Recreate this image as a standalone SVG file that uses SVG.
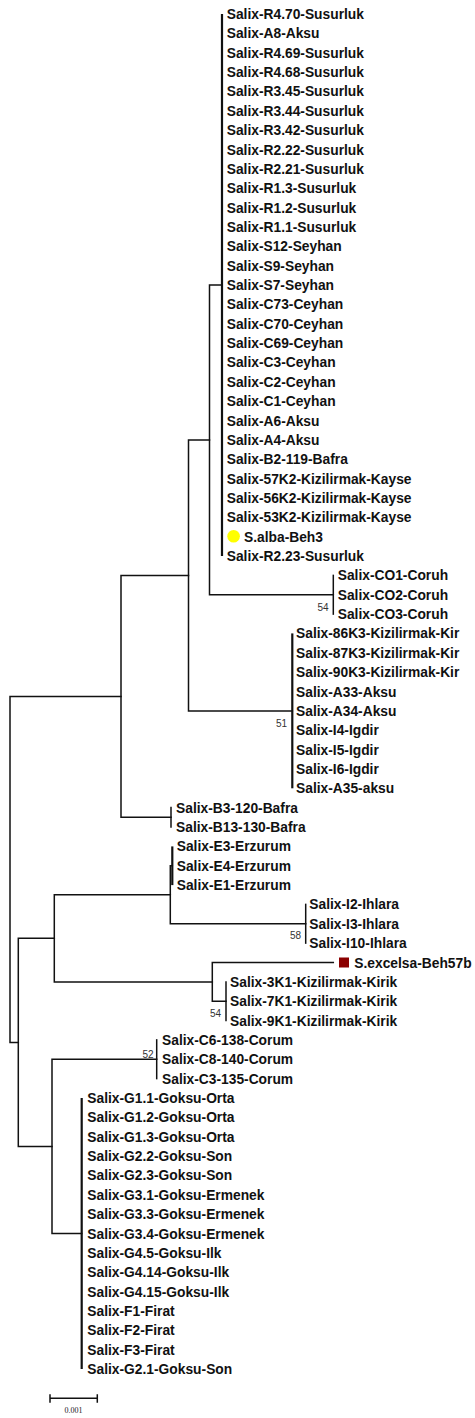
<svg xmlns="http://www.w3.org/2000/svg" width="475" height="1418" viewBox="0 0 475 1418">
<style>
.lb{font-family:"Liberation Sans",Arial,sans-serif;font-weight:bold;font-size:13.8px;fill:#111}
.bs{font-family:"Liberation Sans",Arial,sans-serif;font-size:10px;fill:#333;text-anchor:end}
.sc{font-family:"Liberation Serif","Times New Roman",serif;font-size:8px;fill:#222;text-anchor:middle}
.ln{stroke:#111;stroke-width:1.5;fill:none;stroke-linecap:square}
.tk{stroke:#111;stroke-width:2.2;fill:none}
</style>
<rect width="475" height="1418" fill="#fff"/>
<g id="connectors">
<path class="tk" d="M222 14V556"/>
<path class="ln" d="M209.5 285V594.7M209.5 285H222M209.5 594.7H333.3"/>
<path class="ln" d="M333.3 575.4V614.1"/>
<path class="ln" d="M188.5 439.9V710.9M188.5 439.9H209.5M188.5 710.9H292.3"/>
<path class="tk" d="M292.3 633.4V788.3"/>
<path class="ln" d="M121 575.4V817.3M121 575.4H188.5M121 817.3H171"/>
<path class="ln" d="M171 807.6V827"/>
<path class="ln" d="M10 696.4V1042.4M10 696.4H121M10 1042.4H18.3"/>
<path class="ln" d="M18.3 938.3V1146.4M18.3 938.3H54.3M18.3 1146.4H52"/>
<path class="ln" d="M54.3 894.8V981.9M54.3 894.8H170.3M54.3 981.9H212.3"/>
<path class="ln" d="M170.3 865.7V923.8M170.3 865.7H172.3M170.3 923.8H305.7"/>
<path class="tk" d="M172.3 846.4V885.1"/>
<path class="ln" d="M305.7 904.4V943.1"/>
<path class="ln" d="M212.3 962.5V1001.2M212.3 962.5H333.3M212.3 1001.2H226"/>
<path class="ln" d="M226 981.9V1020.6"/>
<path class="ln" d="M52 1059.3V1233.5M52 1059.3H156.7M52 1233.5H81.7"/>
<path class="ln" d="M156.7 1039.9V1078.6"/>
<path class="tk" d="M81.7 1098V1369"/>
</g>
<g id="bootstrap">
<text class="bs" x="328.5" y="610.5">54</text>
<text class="bs" x="287" y="726.5">51</text>
<text class="bs" x="301" y="939">58</text>
<text class="bs" x="221" y="1016.5">54</text>
<text class="bs" x="153.5" y="1057.5">52</text>
</g>
<g id="cluster-top">
<g id="n1"><text class="lb" x="226.7" y="19">Salix-R4.70-Susurluk</text></g>
<g id="n2"><text class="lb" x="226.7" y="38.4">Salix-A8-Aksu</text></g>
<g id="n3"><text class="lb" x="226.7" y="57.7">Salix-R4.69-Susurluk</text></g>
<g id="n4"><text class="lb" x="226.7" y="77.1">Salix-R4.68-Susurluk</text></g>
<g id="n5"><text class="lb" x="226.7" y="96.4">Salix-R3.45-Susurluk</text></g>
<g id="n6"><text class="lb" x="226.7" y="115.8">Salix-R3.44-Susurluk</text></g>
<g id="n7"><text class="lb" x="226.7" y="135.1">Salix-R3.42-Susurluk</text></g>
<g id="n8"><text class="lb" x="226.7" y="154.5">Salix-R2.22-Susurluk</text></g>
<g id="n9"><text class="lb" x="226.7" y="173.9">Salix-R2.21-Susurluk</text></g>
<g id="n10"><text class="lb" x="226.7" y="193.2">Salix-R1.3-Susurluk</text></g>
<g id="n11"><text class="lb" x="226.7" y="212.6">Salix-R1.2-Susurluk</text></g>
<g id="n12"><text class="lb" x="226.7" y="231.9">Salix-R1.1-Susurluk</text></g>
<g id="n13"><text class="lb" x="226.7" y="251.3">Salix-S12-Seyhan</text></g>
<g id="n14"><text class="lb" x="226.7" y="270.6">Salix-S9-Seyhan</text></g>
<g id="n15"><text class="lb" x="226.7" y="290">Salix-S7-Seyhan</text></g>
<g id="n16"><text class="lb" x="226.7" y="309.4">Salix-C73-Ceyhan</text></g>
<g id="n17"><text class="lb" x="226.7" y="328.7">Salix-C70-Ceyhan</text></g>
<g id="n18"><text class="lb" x="226.7" y="348.1">Salix-C69-Ceyhan</text></g>
<g id="n19"><text class="lb" x="226.7" y="367.4">Salix-C3-Ceyhan</text></g>
<g id="n20"><text class="lb" x="226.7" y="386.8">Salix-C2-Ceyhan</text></g>
<g id="n21"><text class="lb" x="226.7" y="406.1">Salix-C1-Ceyhan</text></g>
<g id="n22"><text class="lb" x="226.7" y="425.5">Salix-A6-Aksu</text></g>
<g id="n23"><text class="lb" x="226.7" y="444.9">Salix-A4-Aksu</text></g>
<g id="n24"><text class="lb" x="226.7" y="464.2">Salix-B2-119-Bafra</text></g>
<g id="n25"><text class="lb" x="226.7" y="483.6">Salix-57K2-Kizilirmak-Kayse</text></g>
<g id="n26"><text class="lb" x="226.7" y="502.9">Salix-56K2-Kizilirmak-Kayse</text></g>
<g id="n27"><text class="lb" x="226.7" y="522.3">Salix-53K2-Kizilirmak-Kayse</text></g>
<g id="n28"><circle cx="233.6" cy="536.2" r="6.3" fill="#ffff00"/><text class="lb" x="244" y="541.6">S.alba-Beh3</text></g>
<g id="n29"><text class="lb" x="226.7" y="561">Salix-R2.23-Susurluk</text></g>
</g>
<g id="cluster-coruh">
<g id="n30"><text class="lb" x="337.7" y="580.4">Salix-CO1-Coruh</text></g>
<g id="n31"><text class="lb" x="337.7" y="599.7">Salix-CO2-Coruh</text></g>
<g id="n32"><text class="lb" x="337.7" y="619.1">Salix-CO3-Coruh</text></g>
</g>
<g id="cluster-k3">
<g id="n33"><text class="lb" x="296" y="638.4">Salix-86K3-Kizilirmak-Kir</text></g>
<g id="n34"><text class="lb" x="296" y="657.8">Salix-87K3-Kizilirmak-Kir</text></g>
<g id="n35"><text class="lb" x="296" y="677.1">Salix-90K3-Kizilirmak-Kir</text></g>
<g id="n36"><text class="lb" x="296" y="696.5">Salix-A33-Aksu</text></g>
<g id="n37"><text class="lb" x="296" y="715.9">Salix-A34-Aksu</text></g>
<g id="n38"><text class="lb" x="296" y="735.2">Salix-I4-Igdir</text></g>
<g id="n39"><text class="lb" x="296" y="754.6">Salix-I5-Igdir</text></g>
<g id="n40"><text class="lb" x="296" y="773.9">Salix-I6-Igdir</text></g>
<g id="n41"><text class="lb" x="296" y="793.3">Salix-A35-aksu</text></g>
</g>
<g id="cluster-bafra">
<g id="n42"><text class="lb" x="176" y="812.6">Salix-B3-120-Bafra</text></g>
<g id="n43"><text class="lb" x="176" y="832">Salix-B13-130-Bafra</text></g>
</g>
<g id="cluster-erzurum">
<g id="n44"><text class="lb" x="176.7" y="851.4">Salix-E3-Erzurum</text></g>
<g id="n45"><text class="lb" x="176.7" y="870.7">Salix-E4-Erzurum</text></g>
<g id="n46"><text class="lb" x="176.7" y="890.1">Salix-E1-Erzurum</text></g>
</g>
<g id="cluster-ihlara">
<g id="n47"><text class="lb" x="309.3" y="909.4">Salix-I2-Ihlara</text></g>
<g id="n48"><text class="lb" x="309.3" y="928.8">Salix-I3-Ihlara</text></g>
<g id="n49"><text class="lb" x="309.3" y="948.1">Salix-I10-Ihlara</text></g>
</g>
<g id="n50"><rect x="339" y="957.5" width="10" height="10" fill="#8b0000"/><text class="lb" x="354.3" y="967.5">S.excelsa-Beh57b</text></g>
<g id="cluster-kirik">
<g id="n51"><text class="lb" x="230" y="986.9">Salix-3K1-Kizilirmak-Kirik</text></g>
<g id="n52"><text class="lb" x="230" y="1006.2">Salix-7K1-Kizilirmak-Kirik</text></g>
<g id="n53"><text class="lb" x="230" y="1025.6">Salix-9K1-Kizilirmak-Kirik</text></g>
</g>
<g id="cluster-corum">
<g id="n54"><text class="lb" x="162" y="1044.9">Salix-C6-138-Corum</text></g>
<g id="n55"><text class="lb" x="162" y="1064.3">Salix-C8-140-Corum</text></g>
<g id="n56"><text class="lb" x="162" y="1083.6">Salix-C3-135-Corum</text></g>
</g>
<g id="cluster-goksu">
<g id="n57"><text class="lb" x="87.3" y="1103">Salix-G1.1-Goksu-Orta</text></g>
<g id="n58"><text class="lb" x="87.3" y="1122.4">Salix-G1.2-Goksu-Orta</text></g>
<g id="n59"><text class="lb" x="87.3" y="1141.7">Salix-G1.3-Goksu-Orta</text></g>
<g id="n60"><text class="lb" x="87.3" y="1161.1">Salix-G2.2-Goksu-Son</text></g>
<g id="n61"><text class="lb" x="87.3" y="1180.4">Salix-G2.3-Goksu-Son</text></g>
<g id="n62"><text class="lb" x="87.3" y="1199.8">Salix-G3.1-Goksu-Ermenek</text></g>
<g id="n63"><text class="lb" x="87.3" y="1219.1">Salix-G3.3-Goksu-Ermenek</text></g>
<g id="n64"><text class="lb" x="87.3" y="1238.5">Salix-G3.4-Goksu-Ermenek</text></g>
<g id="n65"><text class="lb" x="87.3" y="1257.9">Salix-G4.5-Goksu-Ilk</text></g>
<g id="n66"><text class="lb" x="87.3" y="1277.2">Salix-G4.14-Goksu-Ilk</text></g>
<g id="n67"><text class="lb" x="87.3" y="1296.6">Salix-G4.15-Goksu-Ilk</text></g>
<g id="n68"><text class="lb" x="87.3" y="1315.9">Salix-F1-Firat</text></g>
<g id="n69"><text class="lb" x="87.3" y="1335.3">Salix-F2-Firat</text></g>
<g id="n70"><text class="lb" x="87.3" y="1354.6">Salix-F3-Firat</text></g>
<g id="n71"><text class="lb" x="87.3" y="1374">Salix-G2.1-Goksu-Son</text></g>
</g>
<g id="scale-bar">
<path class="ln" d="M50 1398.3H97.3M50 1395V1402M97.3 1395V1402"/>
<text class="sc" x="73.6" y="1413">0.001</text>
</g>
</svg>
